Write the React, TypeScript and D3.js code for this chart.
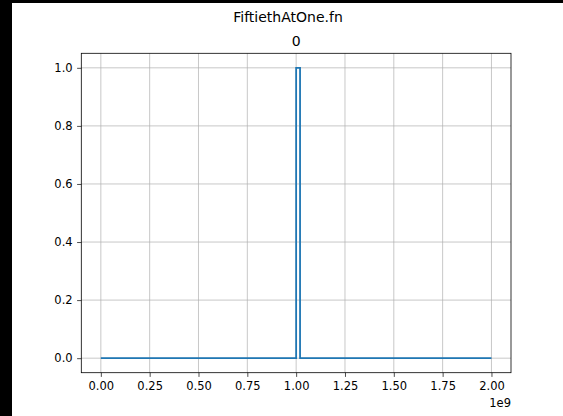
import React, { useEffect, useRef } from 'react';
import * as d3 from 'd3';

// step series: value switches at each x (drawn "steps-post")
const stepX = [0, 1.0e9, 1.02e9, 2.0e9];
const stepY = [0, 1, 0, 0];

const xTicks = [0, 0.25e9, 0.5e9, 0.75e9, 1.0e9, 1.25e9, 1.5e9, 1.75e9, 2.0e9];
const yTicks = [0, 0.2, 0.4, 0.6, 0.8, 1.0];

const suptitle = 'FiftiethAtOne.fn';
const axTitle = '0';
const offsetText = '1e9';

const W = 563;
const H = 416;

const App = () => {
  const ref = useRef<SVGSVGElement>(null);

  useEffect(() => {
    if (!ref.current) return;
    const svg = d3.select(ref.current);
    svg.selectAll('*').remove();

    const font = 'DejaVu Sans, sans-serif';
    const left = 81.3, right = 511, top = 53.3, bottom = 372.7;

    // black screen edges
    svg.append('rect').attr('x', 0).attr('y', 0).attr('width', W).attr('height', H).attr('fill', '#000');
    svg.append('rect').attr('x', 12).attr('y', 3).attr('width', W - 12).attr('height', H - 3).attr('fill', '#fff');

    const x = d3.scaleLinear().domain([-0.1e9, 2.1e9]).range([left, right]);
    const y = d3.scaleLinear().domain([-0.05, 1.05]).range([bottom, top]);

    // grid
    const grid = svg.append('g').attr('stroke', '#b0b0b0').attr('stroke-width', 0.7);
    xTicks.forEach(t => {
      grid.append('line').attr('x1', x(t)).attr('x2', x(t)).attr('y1', top).attr('y2', bottom);
    });
    yTicks.forEach(t => {
      grid.append('line').attr('x1', left).attr('x2', right).attr('y1', y(t)).attr('y2', y(t));
    });

    // data
    const line = d3.line<number>()
      .x((_, i) => x(stepX[i]))
      .y(d => y(d))
      .curve(d3.curveStepAfter);
    svg.append('path')
      .datum(stepY)
      .attr('d', line)
      .attr('fill', 'none')
      .attr('stroke', '#1f77b4')
      .attr('stroke-width', 1.8);

    // axes
    const xAxis = svg.append('g')
      .attr('transform', `translate(0,${bottom})`)
      .call(d3.axisBottom(x).tickValues(xTicks).tickFormat(d => ((d as number) / 1e9).toFixed(2)).tickSize(4.2).tickPadding(4.8));
    const yAxis = svg.append('g')
      .attr('transform', `translate(${left},0)`)
      .call(d3.axisLeft(y).tickValues(yTicks).tickFormat(d => (d as number).toFixed(1)).tickSize(4.2).tickPadding(4.5));
    [xAxis, yAxis].forEach(a => {
      a.select('.domain').remove();
      a.selectAll('line').attr('stroke', '#000').attr('stroke-width', 0.7);
      a.selectAll('text').attr('font-family', font).attr('font-size', 11.5).attr('fill', '#000');
    });

    // spines
    svg.append('rect')
      .attr('x', left).attr('y', top)
      .attr('width', right - left).attr('height', bottom - top)
      .attr('fill', 'none').attr('stroke', '#000').attr('stroke-width', 0.8);

    svg.append('text').attr('x', right).attr('y', 407)
      .attr('text-anchor', 'end').attr('font-family', font).attr('font-size', 11.5)
      .text(offsetText);

    svg.append('text').attr('x', 288).attr('y', 22)
      .attr('text-anchor', 'middle').attr('font-family', font).attr('font-size', 14)
      .text(suptitle);
    svg.append('text').attr('x', (left + right) / 2).attr('y', 46)
      .attr('text-anchor', 'middle').attr('font-family', font).attr('font-size', 14)
      .text(axTitle);
  }, []);

  return (
    <svg ref={ref} width={W} height={H} style={{ position: 'absolute', left: 0, top: 0, display: 'block' }} />
  );
};

export default App;
